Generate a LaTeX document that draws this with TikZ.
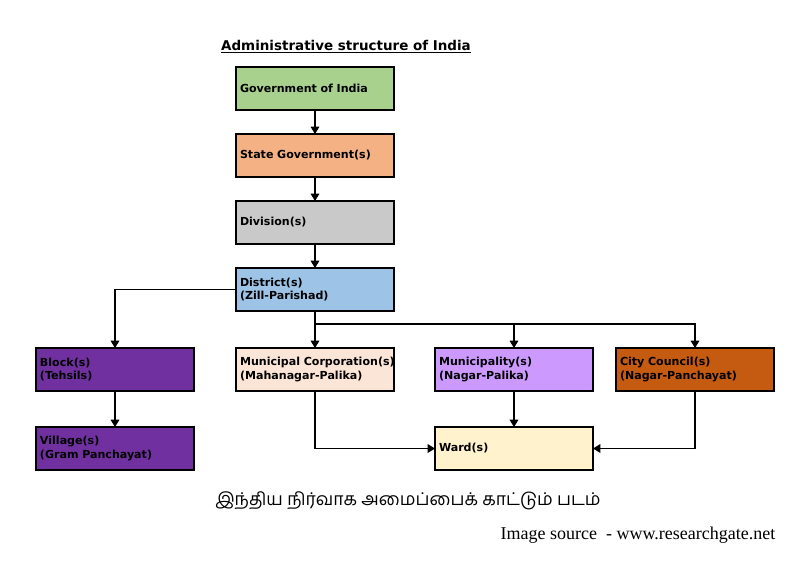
\documentclass[tikz,border=0pt]{standalone}
\usepackage{fontspec}
\usepackage{xcolor}
\usepackage{tikz}
\usetikzlibrary{arrows.meta, positioning}
\newfontfamily\boxfont{DejaVu Sans}
\newfontfamily\tamilfont[Script=Tamil]{Hind Madurai}
\newfontfamily\srcfont{Liberation Serif}
\definecolor{govgreen}{HTML}{A9D18E}
\definecolor{stateorange}{HTML}{F4B183}
\definecolor{divgray}{HTML}{C9C9C9}
\definecolor{distblue}{HTML}{9DC3E6}
\definecolor{ruralpurple}{HTML}{7030A0}
\definecolor{corppeach}{HTML}{FBE5D6}
\definecolor{munlilac}{HTML}{CC99FF}
\definecolor{cityrust}{HTML}{C55A11}
\definecolor{wardcream}{HTML}{FFF2CC}

\begin{document}
\begin{tikzpicture}[
    x=0.75pt, y=-0.75pt,
    box/.style={rectangle, draw=black, line width=1.1pt, outer sep=0pt,
                font=\boxfont\bfseries\fontsize{8.3}{10.2}\selectfont,
                text width=112.5pt, inner xsep=3pt, align=left, minimum height=32.25pt},
    arrow/.style={-{Triangle[length=5.5pt, width=6.5pt]}, line width=0.9pt}
]
    \useasboundingbox (0,0) rectangle (811,562);

    \node[font=\boxfont\bfseries\fontsize{10.1}{12}\selectfont] (title) at (346,47) {\underline{Administrative structure of India}};

    \node[box, fill=govgreen] (gov) at (315,88.5) {Government of India};
    \node[box, fill=stateorange, below=18pt of gov] (state) {State Government(s)};
    \node[box, fill=divgray, below=18pt of state] (div) {Division(s)};
    \node[box, fill=distblue, below=18pt of div] (dist) {District(s)\\(Zill-Parishad)};

    \node[box, fill=corppeach, below=27.75pt of dist] (mcorp) {\mbox{Municipal Corporation(s)}\\(Mahanagar-Palika)};
    \node[box, fill=ruralpurple, left=31.5pt of mcorp] (block) {Block(s)\\(Tehsils)};
    \node[box, fill=munlilac, right=30.75pt of mcorp] (mun) {Municipality(s)\\(Nagar-Palika)};
    \node[box, fill=cityrust, right=17.25pt of mun] (city) {City Council(s)\\(Nagar-Panchayat)};

    \node[box, fill=ruralpurple, below=27pt of block] (village) {Village(s)\\(Gram Panchayat)};
    \node[box, fill=wardcream, below=27pt of mun] (ward) {Ward(s)};

    \coordinate[below=9.75pt of dist.south] (split);

    \draw[arrow] (gov) -- (state);
    \draw[arrow] (state) -- (div);
    \draw[arrow] (div) -- (dist);
    \draw[arrow] (dist.west) -| (block.north);
    \draw[arrow] (dist.south) -- (mcorp.north);
    \draw[arrow] (split) -| (mun.north);
    \draw[arrow] (split) -| (city.north);
    \draw[arrow] (block) -- (village);
    \draw[arrow] (mcorp.south) |- (ward.west);
    \draw[arrow] (mun) -- (ward);
    \draw[arrow] (city.south) |- (ward.east);

    \node[font=\tamilfont\fontsize{13.2}{15}\selectfont] (tamil) at (408,501) {இந்திய நிர்வாக அமைப்பைக் காட்டும் படம்};
    \node[font=\srcfont\fontsize{13.5}{15}\selectfont, anchor=east] (source) at (780,535) {Image source\ \ - www.researchgate.net};
\end{tikzpicture}
\end{document}
